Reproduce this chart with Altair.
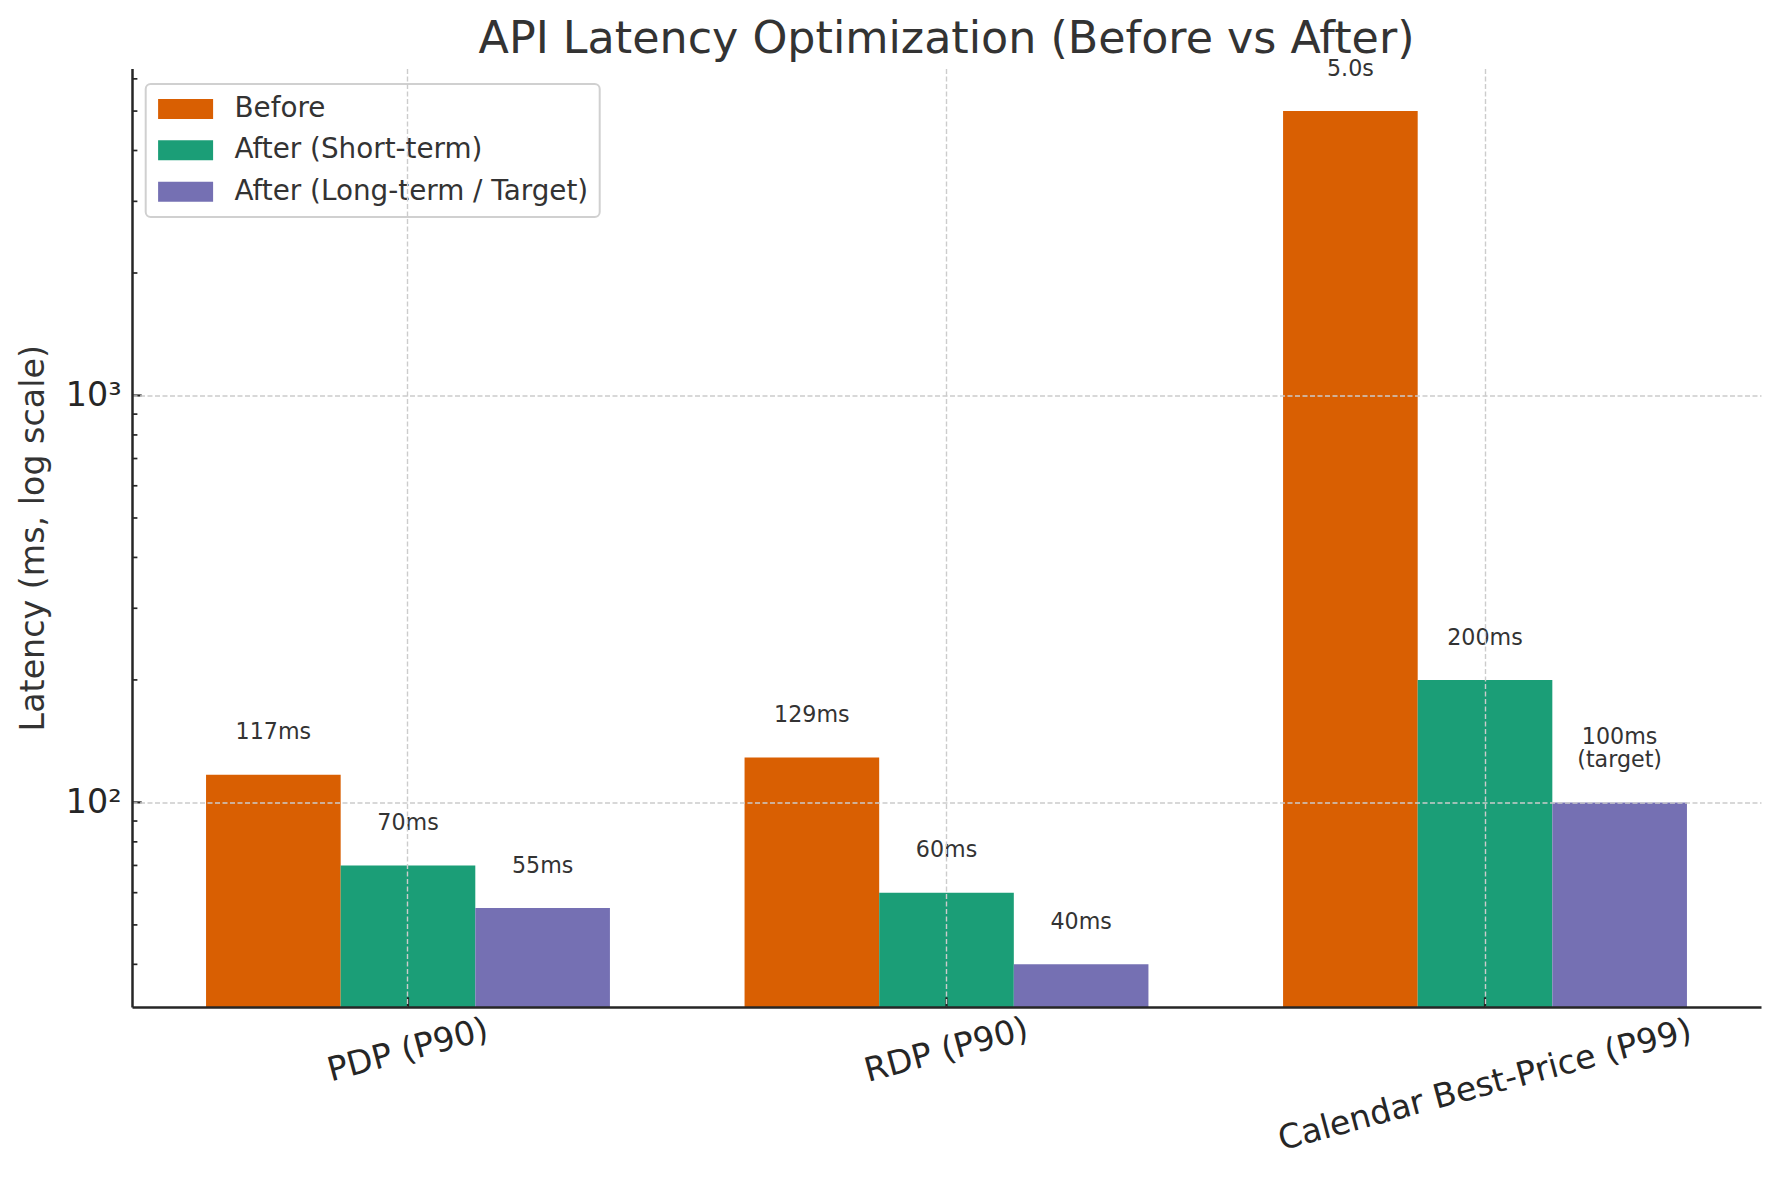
import altair as alt
import pandas as pd

# ---------------- data ----------------
categories = ["PDP (P90)", "RDP (P90)", "Calendar Best-Price (P99)"]
series_names = ["Before", "After (Short-term)", "After (Long-term / Target)"]
before = [117, 129, 5000]
after_short = [70, 60, 200]
after_long = [55, 40, 100]
before_labels = ["117ms", "129ms", "5.0s"]
short_labels = ["70ms", "60ms", "200ms"]
long_labels = ["55ms", "40ms", "100ms\n(target)"]
colors = ["#d95f02", "#1b9e77", "#7570b3"]

y_min, y_max = 31.42, 6362
major_ticks = [100, 1000]
minor_ticks = [40, 50, 60, 70, 80, 90, 200, 300, 400, 500, 600, 700, 800, 900,
               2000, 3000, 4000, 5000, 6000]

rows = []
for s, vals, labs in zip(series_names, [before, after_short, after_long],
                         [before_labels, short_labels, long_labels]):
    for c, v, l in zip(categories, vals, labs):
        rows.append({"category": c, "series": s, "latency": v, "label": l,
                     "multiline": "\n" in l})
df = pd.DataFrame(rows)

W, H = 1629, 938.5
FONT = "DejaVu Sans"
AXIS_COL = "#262626"

x_scale = alt.Scale(domain=categories, paddingInner=0.25, paddingOuter=0.1375)
y_scale = alt.Scale(type="log", domain=[y_min, y_max], nice=False)
off_scale = alt.Scale(domain=series_names, paddingInner=0, paddingOuter=0)
color_scale = alt.Scale(domain=series_names, range=colors)

x_axis = alt.Axis(
    title=None, labelAngle=-15, labelAlign="center", labelBaseline="middle",
    labelFontSize=33.3, labelColor=AXIS_COL, labelFont=FONT,
    labelPadding={"condition": {"test": "datum.value == 'Calendar Best-Price (P99)'", "value": 78}, "value": 43},
    labelLimit=0, labelOverlap=False,
    ticks=False, tickSize=0,
    domainColor=AXIS_COL, domainWidth=2.5,
    grid=True, gridColor="#cccccc", gridDash=[5, 2.5], gridWidth=1.4,
    bandPosition=0.5, zindex=1,
)
y_axis = alt.Axis(
    title="Latency (ms, log scale)", values=major_ticks,
    labelExpr="datum.value == 100 ? '10²' : (datum.value == 1000 ? '10³' : '')",
    labelFontSize=33.3, labelColor=AXIS_COL, labelFont=FONT, labelPadding=11,
    ticks=False, tickSize=0,
    domainColor=AXIS_COL, domainWidth=2.5,
    grid=True, gridColor="#cccccc", gridDash=[5, 2.5], gridWidth=1.4, zindex=1,
    titleFontSize=33.3, titleColor="#333333", titleFont=FONT, titleFontWeight="normal",
    titleAngle=270, titleX=-98.3, titleY=H / 2, titleAlign="center", titleBaseline="middle",
)

legend = alt.Legend(
    title=None, orient="none", legendX=13.7, legendY=15.5,
    symbolType="M-2.75,-1H2.75V1H-2.75Z", symbolSize=400, symbolStrokeWidth=0,
    symbolOpacity=1, symbolOffset=15,
    labelFontSize=27.8, labelColor="#333333", labelFont=FONT, labelOffset=35,
    labelLimit=0, rowPadding=12.4,
)

x_enc = alt.X("category:N", scale=x_scale, axis=x_axis)
y_enc = alt.Y("latency:Q", scale=y_scale, axis=y_axis)
off_enc = alt.XOffset("series:N", scale=off_scale)

base = alt.Chart(df)

bars = base.mark_bar().encode(
    x=x_enc,
    xOffset=off_enc,
    y=y_enc,
    y2=alt.datum(y_min),
    color=alt.Color("series:N", scale=color_scale, legend=legend),
)

text_style = dict(baseline="bottom", fontSize=22.2, color="#333333", font=FONT,
                  lineBreak="\n", lineHeight=23.5)

texts_single = base.transform_filter("!datum.multiline").mark_text(
    dy=-30.3, **text_style
).encode(x=x_enc, xOffset=off_enc, y=y_enc, text="label:N")

texts_multi = base.transform_filter("datum.multiline").mark_text(
    dy=-53.8, **text_style
).encode(x=x_enc, xOffset=off_enc, y=y_enc, text="label:N")

xticks = alt.Chart(pd.DataFrame({"category": categories})).mark_rule(
    color=AXIS_COL, strokeWidth=2.2
).encode(x=x_enc, y=alt.value(H), y2=alt.value(H - 9.7))

yticks_major = alt.Chart(pd.DataFrame({"latency": major_ticks})).mark_rule(
    color=AXIS_COL, strokeWidth=2.2
).encode(y=y_enc, x=alt.value(0), x2=alt.value(9.7))

yticks_minor = alt.Chart(pd.DataFrame({"latency": minor_ticks})).mark_rule(
    color=AXIS_COL, strokeWidth=1.7
).encode(y=y_enc, x=alt.value(0), x2=alt.value(5.4))

chart = alt.layer(bars, texts_single, texts_multi, xticks, yticks_major, yticks_minor).properties(
    width=W, height=H,
    padding={"left": 8, "top": 8.5, "right": 8, "bottom": 8},
    title=alt.TitleParams(
        "API Latency Optimization (Before vs After)", fontSize=44.4, font=FONT,
        fontWeight="normal", color="#333333", anchor="middle", frame="group",
        offset=-4.6,
    ),
).configure(font=FONT).configure_view(stroke=None).configure_legend(
    strokeColor="#d0d0d0", strokeWidth=2, cornerRadius=5,
    fillColor="rgba(255,255,255,0.8)", padding=11,
)

chart.save("out.html", embed_options={"renderer": "svg", "actions": False})
